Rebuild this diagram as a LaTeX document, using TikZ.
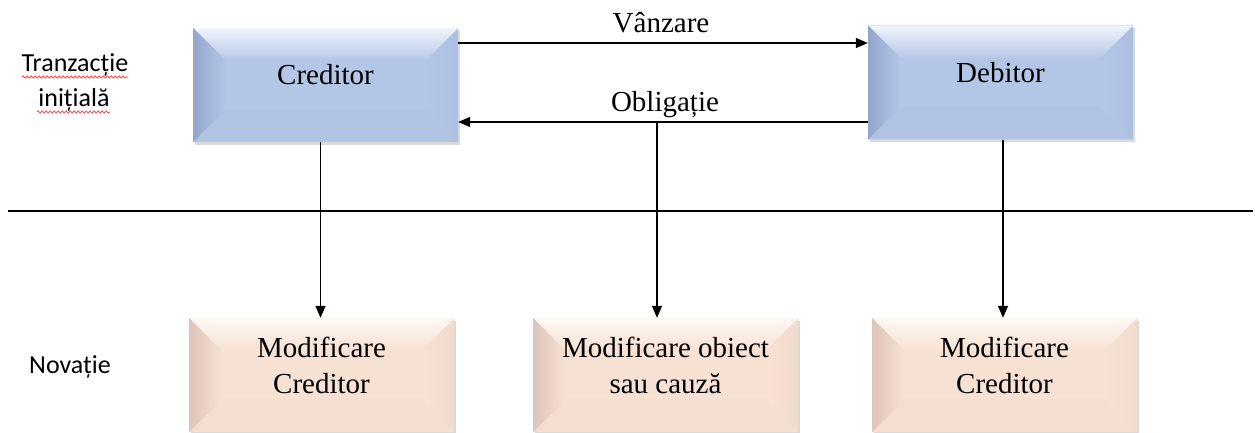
\documentclass[tikz,border=0pt]{standalone}
\usepackage{fontspec}
\setmainfont{Liberation Serif}
\newfontfamily\labelsans{Carlito}
\usetikzlibrary{arrows.meta,calc,shadows,decorations.pathmorphing}

\definecolor{blueBase}{RGB}{180,198,230}
\definecolor{blueDark}{RGB}{146,166,204}
\definecolor{blueLight}{RGB}{240,244,252}
\definecolor{peachBase}{RGB}{247,225,211}
\definecolor{peachDark}{RGB}{220,197,184}
\definecolor{peachLight}{RGB}{254,248,244}

\tikzset{
  % bevelled box: base colour, dark edge, light edge
  bevelbox/.style n args={3}{
    rectangle, minimum width=265pt, minimum height=114pt, inner sep=0pt,
    text height=0pt, text depth=0pt,
    font=\fontsize{29}{36}\selectfont,
    fill=#1,
    drop shadow={shadow xshift=2pt, shadow yshift=-3pt, opacity=0.25, fill=black!60},
    path picture={
      \coordinate (pNW) at (path picture bounding box.north west);
      \coordinate (pNE) at (path picture bounding box.north east);
      \coordinate (pSW) at (path picture bounding box.south west);
      \coordinate (pSE) at (path picture bounding box.south east);
      \fill[#1!90!#2] (pSW) -- (pSE) -- ($(pSE)+(-33pt,33pt)$) -- ($(pSW)+(33pt,33pt)$) -- cycle;
      \shade[left color=#1, right color=#1!80!#2]
        (pNE) -- (pSE) -- ($(pSE)+(-33pt,33pt)$) -- ($(pNE)+(-33pt,-33pt)$) -- cycle;
      \shade[top color=#3, bottom color=#1]
        (pNW) -- (pNE) -- ($(pNE)+(-33pt,-33pt)$) -- ($(pNW)+(33pt,-33pt)$) -- cycle;
      \shade[left color=#2, right color=#1]
        (pNW) -- ($(pNW)+(33pt,-33pt)$) -- ($(pSW)+(33pt,33pt)$) -- (pSW) -- cycle;
    }
  },
  topbox/.style={bevelbox={blueBase}{blueDark}{blueLight}},
  lowbox/.style={bevelbox={peachBase}{peachDark}{peachLight}},
  arrowline/.style={line width=1.4pt, -{Triangle[length=12pt,width=10pt]}},
  plainline/.style={line width=1.4pt},
  flowlabel/.style={anchor=base, inner sep=0pt, font=\fontsize{29}{36}\selectfont},
  sidelabel/.style={anchor=base, inner sep=0pt, font=\labelsans\fontsize{26}{30}\selectfont},
  spellmark/.style={red!80!white, line width=0.7pt,
    decorate, decoration={snake, amplitude=1.2pt, segment length=4pt}}
}

\begin{document}
\begin{tikzpicture}[x=1pt, y=-1pt]
  \useasboundingbox (0,0) rectangle (1255,433);

  % parties of the initial transaction
  \node[topbox] (cred) at (325.5,85) {Creditor};
  \node[topbox] (deb) at (1000.5,82.5) {Debitor};

  % the three kinds of novation
  \node[lowbox] (m1) at (321.5,375)
    {\begin{tabular}{@{}c@{}}Modificare\\Creditor\end{tabular}};
  \node[lowbox] (m2) at (665.5,375)
    {\begin{tabular}{@{}c@{}}Modificare obiect\\sau cauză\end{tabular}};
  \node[lowbox] (m3) at (1004.5,375)
    {\begin{tabular}{@{}c@{}}Modificare\\Creditor\end{tabular}};

  % separator between the two levels
  \coordinate (sepL) at (8,211);
  \coordinate (sepR) at (1253,211);
  \draw[plainline] (sepL) -- (sepR);

  % sale and obligation between creditor and debitor
  \draw[arrowline] ([yshift=42pt]cred.east) -- ([yshift=42pt]cred.east -| deb.west);
  \draw[arrowline] ([yshift=-37pt]cred.east -| deb.west) -- ([yshift=-37pt]cred.east);
  \node[flowlabel] (lv) at (661,33) {Vânzare};
  \node[flowlabel] (lo) at (665,112) {Obligație};

  % links down to the novation boxes
  \coordinate (ob) at (657,122);
  \draw[arrowline] ([xshift=-5pt]cred.south) -- ([xshift=-5pt]cred.south |- m1.north);
  \draw[arrowline] (ob) -- (ob |- m2.north);
  \draw[arrowline] ([xshift=2.5pt]deb.south) -- ([xshift=2.5pt]deb.south |- m3.north);

  % level captions
  \node[sidelabel] (t1) at (75,72) {Tranzacție};
  \node[sidelabel] (t2) at (74,107) {inițială};
  \node[sidelabel] (nv) at (70,373) {Novație};
  \draw[spellmark] (22,77) -- (128,77);
  \draw[spellmark] (37,112) -- (110,112);
\end{tikzpicture}
\end{document}
